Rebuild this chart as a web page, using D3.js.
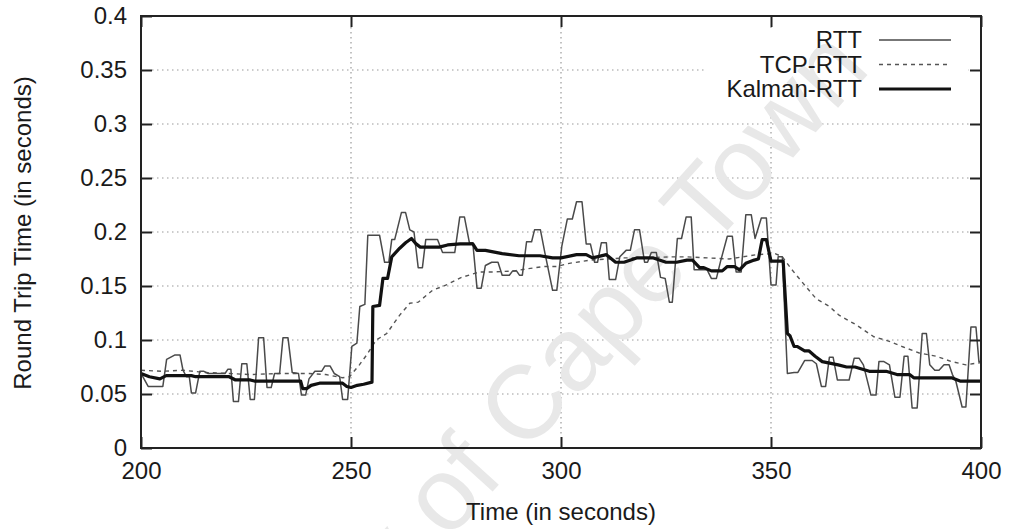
<!DOCTYPE html>
<html>
<head>
<meta charset="utf-8">
<script src="https://cdn.jsdelivr.net/npm/d3@7"></script>
<style>
  body { margin: 0; background: #fff; }
  text { font-family: "Liberation Sans", Arial, sans-serif; fill: #1a1a1a; }
</style>
</head>
<body>
<svg id="chart" width="1011" height="529"></svg>
<script>
// tick values
var xTicks = [200, 250, 300, 350, 400];
var yTicks = [0, 0.05, 0.1, 0.15, 0.2, 0.25, 0.3, 0.35, 0.4];
var seriesNames = ["RTT", "TCP-RTT", "Kalman-RTT"];

// measured RTT samples (time in s, value in s)
var rttTime = [200, 201.7, 205.2, 206.1, 208, 209.3, 210, 210.8, 211.5, 212, 213, 214, 215, 216, 220, 220.7, 221.4, 222, 223.2, 224, 225.2, 226, 227, 228, 229.2, 230, 231, 231.8, 233, 233.8, 235, 236, 237.5, 238.2, 239.2, 240, 241.4, 243, 243.8, 245, 246, 247.3, 248, 249.2, 250.2, 251.4, 252.1, 253.3, 254, 256.8, 258, 259, 259.7, 260.4, 262, 263, 264, 265, 266, 267, 267.8, 270.6, 271.8, 274.7, 275.9, 277, 278.2, 279, 280, 281, 282, 283.5, 285, 286, 287.7, 288.5, 289.4, 290.1, 290.8, 291.8, 293, 293.7, 295.1, 296.2, 298, 299, 300.2, 301.5, 302.7, 303.7, 305, 306, 307, 308, 308.7, 309.6, 310.8, 311.5, 313, 314, 315.5, 316.5, 317.5, 318.7, 319.9, 320.6, 321.5, 322.7, 323.7, 324.8, 325.8, 326.5, 327.7, 328.7, 329.8, 331, 331.7, 334.8, 335.8, 337, 338, 339.6, 340.8, 341.7, 342.9, 344, 345.3, 346.2, 347.7, 348.9, 350, 351.2, 351.7, 352.7, 353.9, 355.5, 356.4, 358, 359.8, 360.8, 362, 363, 363.9, 364.8, 365.8, 368.6, 369.8, 371, 372, 373.8, 375, 375.7, 376.9, 378.2, 379.5, 380.7, 381.7, 382.6, 383.6, 384.8, 386, 387, 387.8, 389, 390, 391.2, 392.4, 393.2, 394, 395.5, 396.4, 397.6, 398.8, 399.5, 400];
var rttValue = [0.069, 0.057, 0.057, 0.082, 0.086, 0.086, 0.072, 0.066, 0.066, 0.051, 0.051, 0.071, 0.071, 0.069, 0.069, 0.073, 0.073, 0.043, 0.043, 0.078, 0.078, 0.045, 0.045, 0.102, 0.102, 0.056, 0.056, 0.069, 0.069, 0.102, 0.102, 0.070, 0.069, 0.049, 0.049, 0.064, 0.071, 0.071, 0.076, 0.076, 0.069, 0.066, 0.045, 0.045, 0.094, 0.097, 0.131, 0.133, 0.197, 0.197, 0.172, 0.172, 0.193, 0.193, 0.218, 0.218, 0.202, 0.200, 0.167, 0.167, 0.193, 0.193, 0.181, 0.181, 0.214, 0.214, 0.190, 0.190, 0.148, 0.148, 0.169, 0.172, 0.172, 0.160, 0.160, 0.164, 0.164, 0.160, 0.160, 0.191, 0.191, 0.202, 0.202, 0.180, 0.146, 0.146, 0.187, 0.212, 0.212, 0.228, 0.228, 0.189, 0.189, 0.172, 0.172, 0.190, 0.190, 0.156, 0.156, 0.177, 0.183, 0.183, 0.202, 0.202, 0.172, 0.172, 0.181, 0.181, 0.158, 0.157, 0.135, 0.135, 0.194, 0.194, 0.214, 0.214, 0.165, 0.165, 0.157, 0.157, 0.173, 0.196, 0.196, 0.163, 0.163, 0.216, 0.216, 0.194, 0.213, 0.213, 0.151, 0.151, 0.177, 0.177, 0.069, 0.070, 0.070, 0.081, 0.081, 0.078, 0.057, 0.057, 0.084, 0.084, 0.063, 0.063, 0.083, 0.083, 0.077, 0.049, 0.049, 0.080, 0.080, 0.077, 0.047, 0.047, 0.085, 0.085, 0.037, 0.037, 0.106, 0.106, 0.077, 0.072, 0.072, 0.077, 0.077, 0.068, 0.062, 0.038, 0.038, 0.112, 0.112, 0.080, 0.080];

// TCP smoothed estimate
var tcpTime = [200, 205, 210, 215, 221, 226, 233, 237, 240, 244, 248, 249.7, 250.5, 252, 253.7, 256, 258.5, 261.6, 264, 266, 269.4, 272.7, 276.3, 280.6, 284, 289, 292, 296, 299, 302, 307, 315, 320, 326, 330, 335, 340, 346.5, 351, 352.7, 355, 358.4, 360.8, 362.2, 363.9, 366.2, 370.3, 374.5, 378, 381.2, 385.3, 389.3, 393, 396.4, 398, 400];
var tcpValue = [0.072, 0.071, 0.072, 0.070, 0.069, 0.068, 0.069, 0.069, 0.069, 0.068, 0.065, 0.066, 0.070, 0.077, 0.086, 0.100, 0.106, 0.123, 0.134, 0.135, 0.146, 0.151, 0.158, 0.163, 0.163, 0.164, 0.166, 0.168, 0.168, 0.171, 0.174, 0.176, 0.176, 0.177, 0.177, 0.176, 0.175, 0.179, 0.180, 0.177, 0.165, 0.149, 0.138, 0.135, 0.131, 0.123, 0.114, 0.103, 0.099, 0.094, 0.088, 0.085, 0.080, 0.077, 0.078, 0.079];

// Kalman filtered estimate
var kalmanTime = [200, 202, 204.5, 206, 212, 213, 221, 222.5, 226, 227, 238, 238.5, 239.5, 240.5, 242.5, 248, 249, 250, 251.5, 253, 255, 255.2, 256.8, 257.6, 258.7, 259.7, 261.6, 263, 264.4, 265.5, 266.5, 271, 273, 276, 279, 280, 282, 286, 290, 295, 298, 300, 303.7, 306, 307.5, 310.8, 313, 315, 318, 322, 325, 327.5, 330, 331.3, 333, 334, 335.8, 338.4, 339.6, 341.3, 342.5, 344, 346, 347, 347.9, 348.9, 350, 352.9, 353.9, 354.5, 355.5, 356.2, 358, 359, 360.5, 362.2, 366, 368, 370, 373.4, 377.4, 380, 383, 384, 393, 395, 400];
var kalmanValue = [0.069, 0.066, 0.064, 0.067, 0.067, 0.066, 0.066, 0.063, 0.063, 0.062, 0.062, 0.055, 0.055, 0.058, 0.060, 0.060, 0.057, 0.056, 0.058, 0.059, 0.061, 0.131, 0.132, 0.157, 0.157, 0.177, 0.185, 0.190, 0.194, 0.189, 0.186, 0.186, 0.188, 0.189, 0.189, 0.183, 0.183, 0.180, 0.178, 0.178, 0.176, 0.176, 0.179, 0.179, 0.176, 0.179, 0.172, 0.172, 0.176, 0.176, 0.172, 0.172, 0.174, 0.174, 0.167, 0.167, 0.164, 0.164, 0.168, 0.168, 0.165, 0.171, 0.174, 0.175, 0.193, 0.193, 0.173, 0.173, 0.106, 0.104, 0.094, 0.094, 0.090, 0.090, 0.085, 0.080, 0.077, 0.075, 0.075, 0.071, 0.071, 0.068, 0.068, 0.065, 0.065, 0.062, 0.062];

var svg = d3.select("#chart");
var plotLeft = 141, plotRight = 981, plotTop = 16, plotBottom = 448;

var x = d3.scaleLinear().domain([200, 400]).range([plotLeft, plotRight]);
var y = d3.scaleLinear().domain([0, 0.4]).range([plotBottom, plotTop]);

// grid
var grid = svg.append("g").attr("class", "grid")
    .attr("stroke", "#9a9a9a").attr("stroke-width", 1.2).attr("stroke-dasharray", "1.5,3.5");
grid.selectAll("line.h")
    .data(yTicks.filter(function(d) { return d > 0 && d < 0.4; }))
    .enter().append("line")
    .attr("x1", plotLeft + 11).attr("x2", plotRight - 11)
    .attr("y1", function(d) { return y(d); })
    .attr("y2", function(d) { return y(d); });
grid.selectAll("line.v")
    .data(xTicks.filter(function(d) { return d > 200 && d < 400; }))
    .enter().append("line")
    .attr("y1", plotTop + 11).attr("y2", plotBottom - 11)
    .attr("x1", function(d) { return x(d); })
    .attr("x2", function(d) { return x(d); });

// legend background hides grid behind key
svg.append("rect")
    .attr("x", 705).attr("y", 28).attr("width", 263).attr("height", 72)
    .attr("fill", "#fff");

// watermark
svg.append("text")
    .attr("transform", "translate(872,70) rotate(-48)")
    .attr("text-anchor", "end")
    .style("font-size", "104px")
    .style("fill", "#e8e8e8")
    .text("University of Cape Town");

function makeLine(times, values) {
    var pts = times.map(function(t, i) { return [t, values[i]]; });
    return d3.line()
        .x(function(d) { return x(d[0]); })
        .y(function(d) { return y(d[1]); })(pts);
}

svg.append("path")
    .attr("d", makeLine(tcpTime, tcpValue))
    .attr("fill", "none").attr("stroke", "#555").attr("stroke-width", 1.4)
    .attr("stroke-dasharray", "4,4");

svg.append("path")
    .attr("d", makeLine(rttTime, rttValue))
    .attr("fill", "none").attr("stroke", "#4a4a4a").attr("stroke-width", 1.5)
    .attr("stroke-linejoin", "round");

svg.append("path")
    .attr("d", makeLine(kalmanTime, kalmanValue))
    .attr("fill", "none").attr("stroke", "#111").attr("stroke-width", 3.2)
    .attr("stroke-linejoin", "round");

// axes with inward ticks on all four sides
function styleAxis(g) {
    g.select(".domain").remove();
    g.selectAll(".tick line").attr("stroke", "#222").attr("stroke-width", 2);
    g.selectAll(".tick text").style("font-size", "24px").style("font-family", "'Liberation Sans', Arial, sans-serif").attr("fill", "#1a1a1a");
}

svg.append("g").attr("transform", "translate(" + plotLeft + ",0)")
    .call(d3.axisLeft(y).tickValues(yTicks).tickSize(-11).tickPadding(14)
        .tickFormat(function(d) { return d3.format("~g")(d); }))
    .call(styleAxis);
svg.append("g").attr("transform", "translate(" + plotRight + ",0)")
    .call(d3.axisRight(y).tickValues(yTicks).tickSize(-11).tickFormat(""))
    .call(styleAxis);
svg.append("g").attr("transform", "translate(0," + plotBottom + ")")
    .call(d3.axisBottom(x).tickValues(xTicks).tickSize(-11).tickPadding(14))
    .call(styleAxis);
svg.append("g").attr("transform", "translate(0," + plotTop + ")")
    .call(d3.axisTop(x).tickValues(xTicks).tickSize(-11).tickFormat(""))
    .call(styleAxis);

// frame
svg.append("rect")
    .attr("x", plotLeft).attr("y", plotTop)
    .attr("width", plotRight - plotLeft).attr("height", plotBottom - plotTop)
    .attr("fill", "none").attr("stroke", "#222").attr("stroke-width", 2);

// axis titles
svg.append("text")
    .attr("x", (plotLeft + plotRight) / 2).attr("y", 520)
    .attr("text-anchor", "middle").style("font-size", "24px")
    .text("Time (in seconds)");
svg.append("text")
    .attr("transform", "translate(31,233) rotate(-90)")
    .attr("text-anchor", "middle").style("font-size", "24px")
    .text("Round Trip Time (in seconds)");

// key
var keyStyles = [
    { width: 1.5, dash: null, color: "#4a4a4a" },
    { width: 1.4, dash: "4,4", color: "#555" },
    { width: 3.2, dash: null, color: "#111" }
];
var key = svg.append("g").selectAll("g")
    .data(seriesNames).enter().append("g")
    .attr("transform", function(d, i) { return "translate(0," + (40 + i * 24.5) + ")"; });
key.append("text")
    .attr("x", 862).attr("dy", "0.35em").attr("text-anchor", "end")
    .style("font-size", "24px")
    .text(function(d) { return d; });
key.append("line")
    .attr("x1", 879).attr("x2", 951)
    .attr("stroke", function(d, i) { return keyStyles[i].color; })
    .attr("stroke-width", function(d, i) { return keyStyles[i].width; })
    .attr("stroke-dasharray", function(d, i) { return keyStyles[i].dash; });
</script>
</body>
</html>
